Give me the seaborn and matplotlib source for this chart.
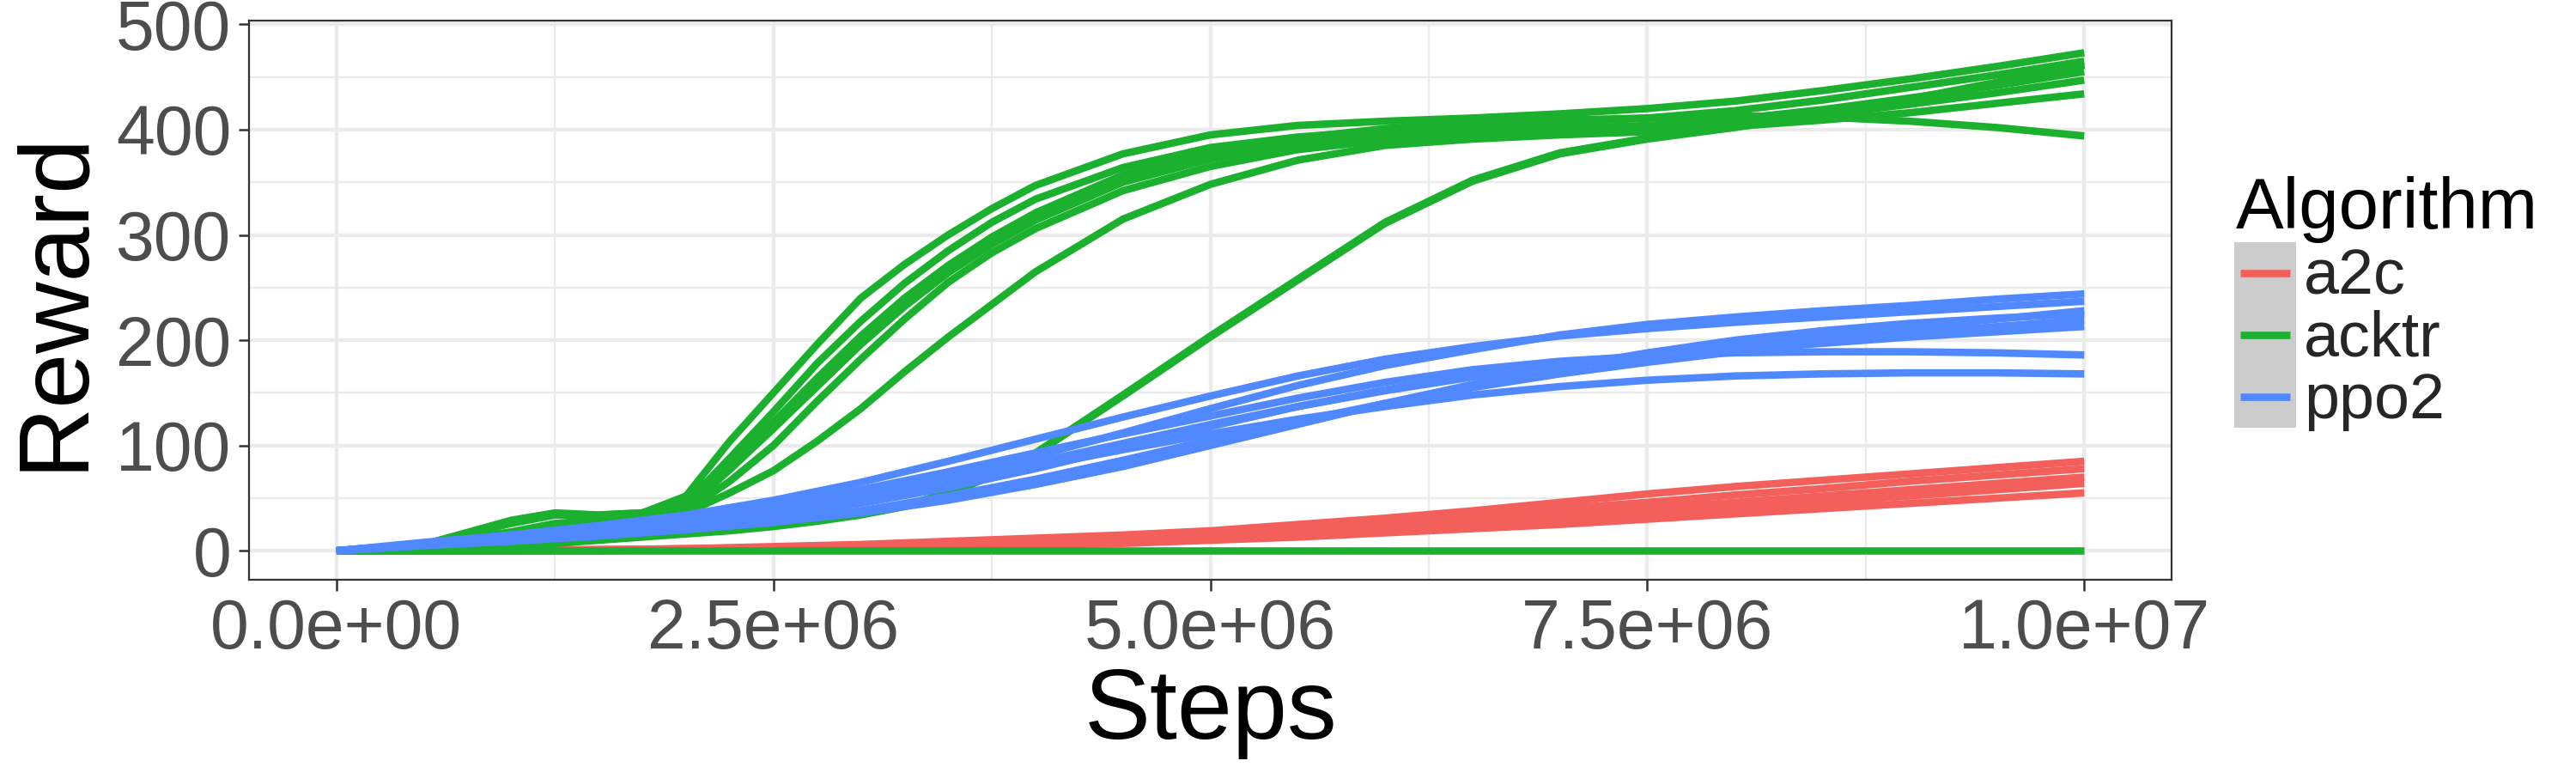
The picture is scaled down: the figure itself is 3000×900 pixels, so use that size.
import numpy as np
import pandas as pd
import seaborn as sns
import matplotlib.pyplot as plt
from matplotlib.lines import Line2D
from matplotlib.patches import Rectangle
from matplotlib.ticker import MultipleLocator, FuncFormatter

sns.set_theme(style='white')
plt.rcParams['font.family'] = ['Liberation Sans', 'DejaVu Sans']

# steps in millions
steps_m = [0, 0.5, 1.0, 1.5, 2.0, 2.5, 3.0, 3.5, 4.0, 4.5, 5.0,
           5.5, 6.0, 6.5, 7.0, 7.5, 8.0, 8.5, 9.0, 9.5, 10.0]
# acktr read on a finer grid where the curves bend
acktr_steps_m = [0, 0.5, 1.0, 1.25, 1.5, 1.75, 2.0, 2.25, 2.5, 2.75, 3.0, 3.25, 3.5,
                 3.75, 4.0, 4.5, 5.0, 5.5, 6.0, 6.5, 7.0, 7.5, 8.0, 8.5, 9.0, 9.5, 10.0]

a2c_runs = [
    [0, 0, 1, 1, 2, 4, 6, 9, 12, 15, 19, 25, 31, 38, 46, 54, 61, 67, 73, 79, 85],
    [0, 0, 1, 1, 2, 3, 5, 7, 10, 13, 17, 22, 27, 33, 40, 46, 53, 59, 66, 72, 78],
    [0, 0, 0, 1, 1, 2, 4, 6, 8, 11, 14, 18, 23, 28, 34, 40, 46, 52, 58, 64, 70],
    [0, 0, 0, 1, 1, 2, 3, 5, 7, 9, 12, 16, 20, 25, 30, 35, 41, 46, 52, 58, 64],
    [0, 0, 0, 0, 1, 1, 2, 4, 5, 7, 10, 13, 17, 21, 25, 30, 35, 40, 45, 50, 55],
]

acktr_runs = [
    [0, 6, 29, 36, 34, 36, 52, 104, 150, 196, 240, 272, 300, 325, 347, 377, 395, 404, 408, 411, 415, 420, 427, 437, 448, 460, 473],
    [0, 6, 26, 34, 33, 35, 45, 88, 132, 178, 218, 254, 285, 312, 334, 364, 383, 393, 399, 403, 407, 411, 418, 428, 440, 452, 465],
    [0, 6, 27, 35, 34, 36, 47, 82, 122, 164, 204, 240, 271, 298, 321, 357, 377, 392, 401, 406, 409, 411, 413, 412, 408, 402, 394],
    [0, 5, 18, 26, 29, 33, 40, 77, 116, 156, 196, 232, 264, 291, 314, 350, 372, 387, 394, 398, 401, 404, 410, 419, 430, 442, 455],
    [0, 5, 16, 24, 28, 32, 38, 66, 100, 142, 182, 220, 255, 283, 306, 342, 365, 381, 390, 395, 399, 402, 406, 414, 424, 435, 447],
    [0, 4, 14, 22, 27, 31, 36, 55, 76, 104, 135, 170, 203, 234, 265, 315, 348, 371, 385, 391, 395, 398, 403, 409, 416, 425, 434],
    [0, 6, 11, 13, 16, 19, 22, 25, 29, 33, 37, 43, 55, 72, 93, 148, 204, 258, 312, 352, 378, 392, 403, 415, 429, 445, 462],
    [0, 1, 4, 7, 10, 13, 16, 19, 23, 28, 34, 42, 54, 71, 92, 147, 203, 257, 311, 351, 377, 391, 402, 414, 428, 444, 461],
    [0, 0, 0, 0, 0, 0, 0, 0, 0, 0, 0, 0, 0, 0, 0, 0, 0, 0, 0, 0, 0, 0, 0, 0, 0, 0, 0],
]

ppo2_runs = [
    [0, 6, 12, 19, 27, 38, 52, 70, 90, 112, 135, 157, 176, 191, 205, 215, 222, 228, 233, 239, 244],
    [0, 7, 15, 24, 34, 48, 65, 85, 106, 127, 147, 166, 182, 194, 204, 211, 217, 222, 227, 232, 237],
    [0, 6, 11, 17, 24, 33, 45, 60, 78, 98, 118, 137, 152, 165, 176, 186, 195, 204, 212, 220, 228],
    [0, 5, 10, 15, 21, 28, 38, 52, 68, 86, 105, 123, 140, 155, 168, 179, 189, 198, 206, 213, 219],
    [0, 7, 14, 21, 29, 39, 52, 67, 84, 102, 120, 137, 153, 166, 176, 184, 191, 197, 203, 208, 213],
    [0, 8, 15, 23, 32, 44, 58, 75, 93, 111, 128, 145, 160, 172, 180, 185, 188, 189, 189, 188, 186],
    [0, 6, 13, 20, 28, 38, 50, 64, 80, 96, 111, 125, 137, 148, 156, 162, 166, 168, 169, 169, 168],
    [0, 5, 9, 14, 20, 27, 36, 48, 63, 80, 100, 120, 140, 158, 174, 188, 200, 209, 216, 221, 225],
]

algos = ['a2c', 'acktr', 'ppo2']
colors = {'a2c': '#F3605C', 'acktr': '#1BB02E', 'ppo2': '#5088FF'}

rows = []
for algo, runs, xs in [('a2c', a2c_runs, steps_m),
                       ('acktr', acktr_runs, acktr_steps_m),
                       ('ppo2', ppo2_runs, steps_m)]:
    for i, run in enumerate(runs):
        for s, r in zip(xs, run):
            rows.append((algo, f'{algo}-{i}', s * 1e6, r))
df = pd.DataFrame(rows, columns=['Algorithm', 'run', 'Steps', 'Reward'])

fig = plt.figure(figsize=(30, 9), dpi=100)
ax = fig.add_axes([0.0967, 0.25, 0.7463, 0.7233])

sns.lineplot(data=df, x='Steps', y='Reward', hue='Algorithm', units='run',
             estimator=None, hue_order=algos, palette=colors, lw=6.2,
             legend=False, ax=ax, solid_capstyle='butt', solid_joinstyle='round')

ax.set_xlim(-0.5e6, 10.5e6)
ax.set_ylim(-27.5, 503.5)
ax.xaxis.set_major_locator(MultipleLocator(2.5e6))
ax.xaxis.set_minor_locator(MultipleLocator(1.25e6))
ax.yaxis.set_major_locator(MultipleLocator(100))
ax.yaxis.set_minor_locator(MultipleLocator(50))
ax.xaxis.set_major_formatter(FuncFormatter(lambda v, p: f'{v:.1e}'))

ax.set_axisbelow(True)
ax.grid(which='major', color='#EBEBEB', lw=3.1)
ax.grid(which='minor', color='#EBEBEB', lw=1.6)
for sp in ax.spines.values():
    sp.set_color('#333333')
    sp.set_linewidth(1.6)
ax.tick_params(which='major', length=9, width=1.8, color='#333333',
               labelsize=58, labelcolor='#4D4D4D', pad=6, bottom=True, left=True)
ax.tick_params(which='minor', length=0)

ax.set_xlabel('Steps', fontsize=83, color='black', labelpad=4)
ax.set_ylabel('Reward', fontsize=83, color='black', labelpad=12)

LABEL_SPACING = -0.111


class KeyHandler:
    # grey key background with the coloured line inset, like ggplot's smooth keys
    def legend_artist(self, legend, orig_handle, fontsize, handlebox):
        x0, y0 = handlebox.xdescent, handlebox.ydescent
        w, h = handlebox.width, handlebox.height
        rh = h + LABEL_SPACING * fontsize
        yb = -y0 + (h - rh) / 2
        tr = handlebox.get_transform()
        bg = Rectangle((-x0, yb), w, rh, facecolor='#CCCCCC', edgecolor='none', transform=tr)
        ln = Line2D([-x0 + 0.1 * w, -x0 + 0.9 * w], [yb + rh / 2, yb + rh / 2],
                    color=orig_handle.get_color(), lw=6.2, solid_capstyle='butt', transform=tr)
        handlebox.add_artist(bg)
        handlebox.add_artist(ln)
        return bg


handles = [Line2D([], [], color=colors[a]) for a in algos]
fig.legend(handles, algos, loc='upper left', bbox_to_anchor=(0.8673, 0.6911),
           frameon=False, fontsize=53, handlelength=0.98, handleheight=1.3,
           labelspacing=LABEL_SPACING, handletextpad=0.12, borderpad=0,
           borderaxespad=0, handler_map={Line2D: KeyHandler()})
fig.text(0.868, 0.7044, 'Algorithm', fontsize=60, color='black',
         ha='left', va='baseline')

fig.savefig('out.png', dpi=100)
